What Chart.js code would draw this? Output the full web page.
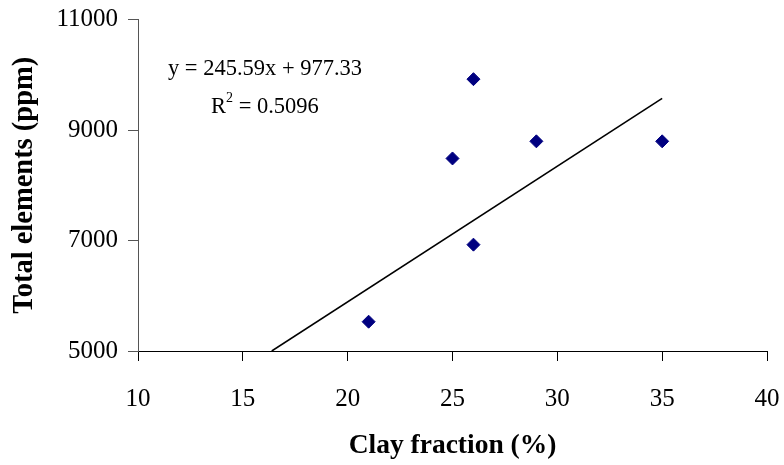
<!DOCTYPE html>
<html>
<head>
<meta charset="utf-8">
<script src="https://cdn.jsdelivr.net/npm/chart.js@4.4.0/dist/chart.umd.min.js"></script>
<style>
html, body { margin: 0; padding: 0; background: #fff; }
#wrap { width: 784px; height: 465px; }
</style>
</head>
<body>
<div id="wrap"><canvas id="myChart"></canvas></div>
<script>
const clayFraction = [21, 25, 26, 26, 29, 35];
const totalElements = [5530, 8485, 9920, 6925, 8795, 8795];
const xTicks = [10, 15, 20, 25, 30, 35, 40];
const yTicks = [5000, 7000, 9000, 11000];

// linear trendline as printed on the chart
const trendSlope = 245.59;
const trendIntercept = 977.33;
const trendR2 = 0.5096;
const trendX = [(yTicks[0] - trendIntercept) / trendSlope, 35];

const serif = "'Liberation Serif', 'Times New Roman', serif";

const equationLabel = {
    id: 'equationLabel',
    afterDraw(chart) {
        const c = chart.ctx;
        c.save();
        c.fillStyle = '#000';
        c.textBaseline = 'alphabetic';
        c.font = '22.5px ' + serif;
        c.textAlign = 'center';
        c.fillText('y = ' + trendSlope + 'x + ' + trendIntercept, 265, 75);

        // R² with a raised 2
        c.textAlign = 'left';
        let x = 211;
        c.fillText('R', x, 113);
        x += c.measureText('R').width;
        c.font = '14px ' + serif;
        c.fillText('2', x, 102);
        x += c.measureText('2').width;
        c.font = '22.5px ' + serif;
        c.fillText(' = ' + trendR2, x, 113);
        c.restore();
    }
};

const ctx = document.getElementById('myChart');
const myChart = new Chart(ctx, {
    type: 'scatter',
    data: {
        datasets: [{
            type: 'scatter',
            data: clayFraction.map((x, i) => ({ x: x, y: totalElements[i] })),
            pointStyle: 'rectRot',
            pointRadius: 6.5,
            pointBackgroundColor: '#000080',
            pointBorderColor: '#000080',
            pointBorderWidth: 1,
            order: 1
        }, {
            type: 'line',
            data: trendX.map(x => ({ x: x, y: trendSlope * x + trendIntercept })),
            borderColor: '#000',
            borderWidth: 1.6,
            pointRadius: 0,
            fill: false,
            order: 2
        }]
    },
    options: {
        responsive: true,
        maintainAspectRatio: false,
        animation: false,
        layout: { padding: { top: 19.5, right: 17, left: 0, bottom: 0 } },
        plugins: {
            legend: { display: false },
            tooltip: { enabled: false }
        },
        scales: {
            x: {
                type: 'linear',
                min: 10,
                max: 40,
                afterBuildTicks: axis => { axis.ticks = xTicks.map(v => ({ value: v })); },
                afterFit: scale => { scale.height = 114; },
                grid: { drawOnChartArea: false, drawTicks: true, tickLength: 10, color: '#000' },
                border: { color: '#000', width: 1 },
                // tall line height pushes the labels down without widening the side padding
                ticks: { color: '#000', font: { family: serif, size: 25, lineHeight: 2.84 }, padding: 3, maxRotation: 0 },
                title: {
                    display: true,
                    text: 'Clay fraction (%)',
                    color: '#000',
                    font: { family: serif, size: 27.5, weight: 'bold' },
                    padding: { top: 10, bottom: 3 }
                }
            },
            y: {
                min: 5000,
                max: 11000,
                afterBuildTicks: axis => { axis.ticks = yTicks.map(v => ({ value: v })); },
                afterFit: scale => { scale.width = 138; },
                grid: { drawOnChartArea: false, drawTicks: true, tickLength: 10, color: '#555' },
                border: { color: '#555', width: 1 },
                ticks: {
                    color: '#000',
                    font: { family: serif, size: 25, lineHeight: 0.6 },
                    padding: 10,
                    callback: v => String(v)
                },
                title: {
                    display: true,
                    text: 'Total elements (ppm)',
                    color: '#000',
                    font: { family: serif, size: 28.5, weight: 'bold' },
                    padding: { top: 8, bottom: 0 }
                }
            }
        }
    },
    plugins: [equationLabel]
});
</script>
</body>
</html>
